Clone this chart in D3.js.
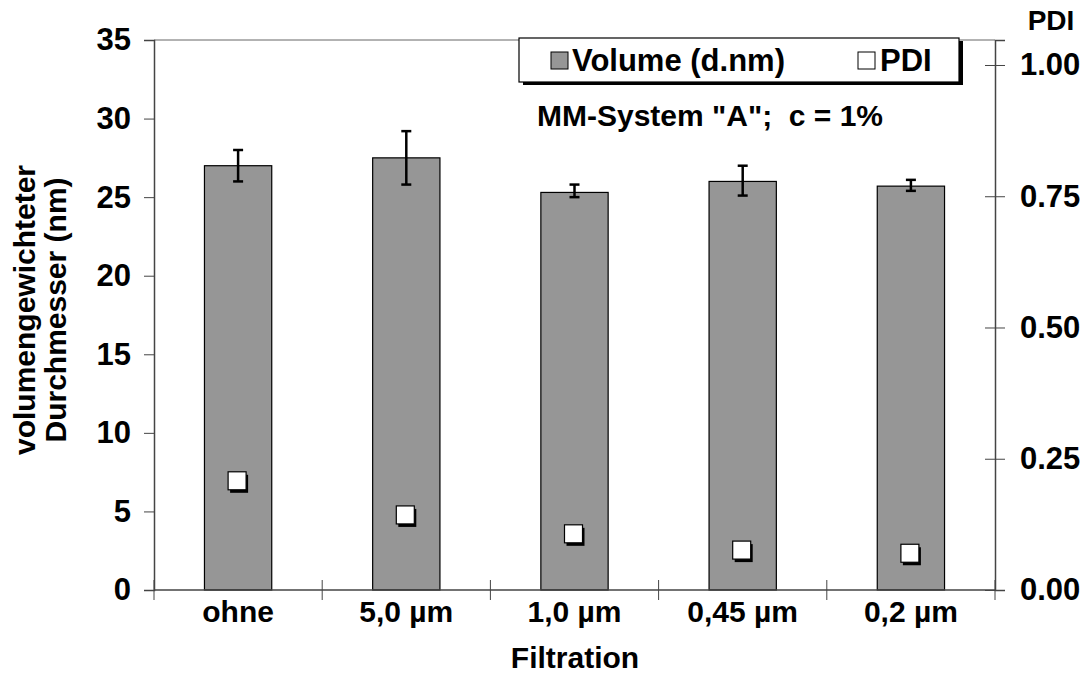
<!DOCTYPE html>
<html>
<head>
<meta charset="utf-8">
<script src="https://cdn.jsdelivr.net/npm/d3@7"></script>
<style>
  body { margin: 0; background: #fff; }
  text { font-family: "Liberation Sans", Arial, sans-serif; font-weight: bold; fill: #000; }
</style>
</head>
<body>
<div id="chart"></div>
<script>
// data
var categories = ["ohne", "5,0 µm", "1,0 µm", "0,45 µm", "0,2 µm"];
var volume = [27.0, 27.5, 25.3, 26.0, 25.7];
var errLow = [26.0, 25.8, 25.0, 25.1, 25.4];
var errHigh = [28.0, 29.2, 25.8, 27.0, 26.1];
var pdi = [0.208, 0.143, 0.107, 0.076, 0.070];
var leftTicks = [0, 5, 10, 15, 20, 25, 30, 35];
var rightTicks = [0, 0.25, 0.5, 0.75, 1.0];

var W = 1088, H = 697;
var mLeft = 154, mRight = 995, mTop = 40, mBottom = 590;

var svg = d3.select("#chart").append("svg")
    .attr("width", W)
    .attr("height", H);

var x = d3.scaleBand().domain(categories).range([mLeft, mRight]).paddingInner(0.6).paddingOuter(0.3);
var xEdge = d3.scaleLinear().domain([0, categories.length]).range([mLeft, mRight]);
var y = d3.scaleLinear().domain([0, 35]).range([mBottom, mTop]);
var y2 = d3.scaleLinear().domain([0, 1.0476]).range([mBottom, mTop]);

// top frame line
svg.append("line")
    .attr("x1", mLeft).attr("x2", mRight)
    .attr("y1", mTop).attr("y2", mTop)
    .attr("stroke", "#666").attr("stroke-width", 1);

// bars
svg.selectAll("rect.bar")
    .data(volume)
    .enter()
    .append("rect")
    .attr("class", "bar")
    .attr("x", function(d, i){ return x(categories[i]); })
    .attr("y", function(d){ return y(d); })
    .attr("width", x.bandwidth())
    .attr("height", function(d){ return y(0) - y(d); })
    .attr("fill", "#969696")
    .attr("stroke", "#000")
    .attr("stroke-width", 1.2);

// error bars
var eb = svg.selectAll("g.err")
    .data(volume)
    .enter()
    .append("g")
    .attr("class", "err");
eb.append("line")
    .attr("x1", function(d, i){ return x(categories[i]) + x.bandwidth() / 2; })
    .attr("x2", function(d, i){ return x(categories[i]) + x.bandwidth() / 2; })
    .attr("y1", function(d, i){ return y(errLow[i]); })
    .attr("y2", function(d, i){ return y(errHigh[i]); })
    .attr("stroke", "#000").attr("stroke-width", 2.5);
[errLow, errHigh].forEach(function(arr){
    eb.append("line")
        .attr("x1", function(d, i){ return x(categories[i]) + x.bandwidth() / 2 - 5; })
        .attr("x2", function(d, i){ return x(categories[i]) + x.bandwidth() / 2 + 5; })
        .attr("y1", function(d, i){ return y(arr[i]); })
        .attr("y2", function(d, i){ return y(arr[i]); })
        .attr("stroke", "#000").attr("stroke-width", 2.5);
});

// left axis
var yAxis = svg.append("g")
    .attr("transform", "translate(" + mLeft + ",0)")
    .call(d3.axisLeft(y).tickValues(leftTicks).tickSize(10).tickPadding(13));
yAxis.select(".domain").attr("stroke", "#444").attr("stroke-width", 1.5);
yAxis.selectAll(".tick line").attr("stroke", "#444");
yAxis.selectAll("text").style("font-size", "31px").attr("font-family", null);

// right axis
var y2Axis = svg.append("g")
    .attr("transform", "translate(" + mRight + ",0)")
    .call(d3.axisRight(y2).tickValues(rightTicks).tickFormat(d3.format(".2f")).tickSize(10).tickPadding(15));
y2Axis.select(".domain").attr("stroke", "#444").attr("stroke-width", 1.5);
y2Axis.selectAll(".tick line").attr("x1", -10).attr("stroke", "#444");
y2Axis.selectAll("text").style("font-size", "31px").attr("font-family", null);

// bottom axis line with crossing ticks between categories
svg.append("line")
    .attr("x1", mLeft).attr("x2", mRight)
    .attr("y1", mBottom).attr("y2", mBottom)
    .attr("stroke", "#444").attr("stroke-width", 1.5);
svg.selectAll("line.xtick")
    .data(d3.range(categories.length + 1))
    .enter()
    .append("line")
    .attr("class", "xtick")
    .attr("x1", function(d){ return xEdge(d); })
    .attr("x2", function(d){ return xEdge(d); })
    .attr("y1", mBottom - 10)
    .attr("y2", mBottom + 10)
    .attr("stroke", "#444");

svg.selectAll("text.xlab")
    .data(categories)
    .enter()
    .append("text")
    .attr("class", "xlab")
    .attr("x", function(d){ return x(d) + x.bandwidth() / 2; })
    .attr("y", 622)
    .attr("text-anchor", "middle")
    .style("font-size", "30px")
    .text(function(d){ return d; });

// PDI markers with shadow
svg.selectAll("rect.shadow")
    .data(pdi)
    .enter()
    .append("rect")
    .attr("class", "shadow")
    .attr("x", function(d, i){ return x(categories[i]) + x.bandwidth() / 2 - 8; })
    .attr("y", function(d){ return y2(d) - 6; })
    .attr("width", 18).attr("height", 18)
    .attr("fill", "#000");
svg.selectAll("rect.pdi")
    .data(pdi)
    .enter()
    .append("rect")
    .attr("class", "pdi")
    .attr("x", function(d, i){ return x(categories[i]) + x.bandwidth() / 2 - 10; })
    .attr("y", function(d){ return y2(d) - 9; })
    .attr("width", 18).attr("height", 18)
    .attr("fill", "#fff")
    .attr("stroke", "#000").attr("stroke-width", 1.2);

// legend
svg.append("rect").attr("x", 523).attr("y", 41).attr("width", 440).attr("height", 44).attr("fill", "#000");
svg.append("rect").attr("x", 519).attr("y", 38).attr("width", 440).attr("height", 44)
    .attr("fill", "#fff").attr("stroke", "#000").attr("stroke-width", 1.2);
svg.append("rect").attr("x", 551).attr("y", 52).attr("width", 17).attr("height", 17)
    .attr("fill", "#969696").attr("stroke", "#000");
svg.append("text").attr("x", 572).attr("y", 71).style("font-size", "31px").text("Volume (d.nm)");
svg.append("rect").attr("x", 858).attr("y", 52).attr("width", 17).attr("height", 17)
    .attr("fill", "#fff").attr("stroke", "#000");
svg.append("text").attr("x", 880).attr("y", 71).style("font-size", "31px").text("PDI");

// annotation
svg.append("text").attr("x", 537).attr("y", 126).style("font-size", "30px").style("white-space", "pre")
    .attr("xml:space", "preserve").text('MM-System "A";  c = 1%');

// axis titles
svg.append("text")
    .attr("transform", "translate(35,310) rotate(-90)")
    .attr("text-anchor", "middle")
    .style("font-size", "30px")
    .text("volumengewichteter");
svg.append("text")
    .attr("transform", "translate(66,310) rotate(-90)")
    .attr("text-anchor", "middle")
    .style("font-size", "30px")
    .text("Durchmesser (nm)");
svg.append("text")
    .attr("x", 575).attr("y", 668)
    .attr("text-anchor", "middle")
    .style("font-size", "30px")
    .text("Filtration");
svg.append("text")
    .attr("x", 1051).attr("y", 30)
    .attr("text-anchor", "middle")
    .style("font-size", "28px")
    .text("PDI");
</script>
</body>
</html>
